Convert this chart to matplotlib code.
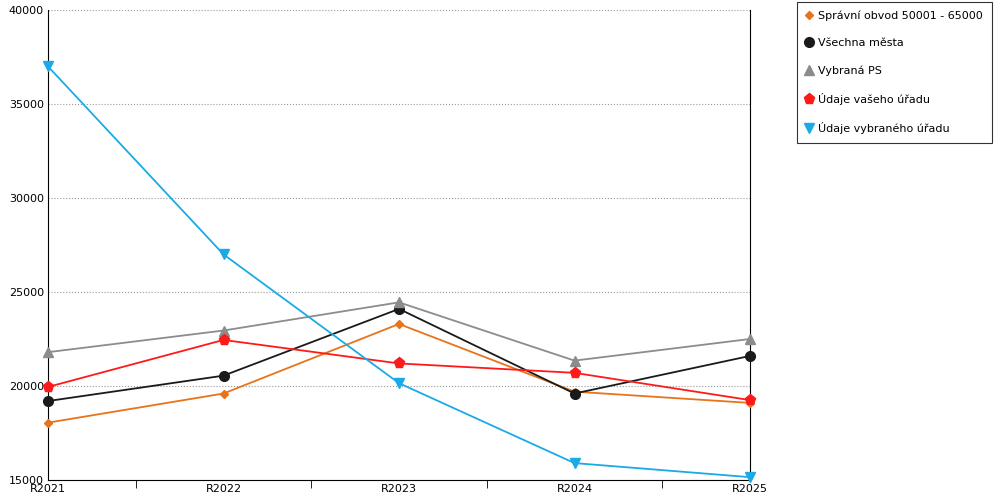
import numpy as np
import matplotlib.pyplot as plt

years = ['R2021', 'R2022', 'R2023', 'R2024', 'R2025']
spravni = [18050, 19600, 23300, 19700, 19100]
vsechna = [19200, 20550, 24100, 19600, 21600]
vybrana = [21800, 22950, 24450, 21350, 22500]
vaseho = [19950, 22450, 21200, 20700, 19250]
vybraneho = [37000, 27000, 20150, 15900, 15150]

series = [
    ('Správní obvod 50001 - 65000', spravni, '#e8731a', 'D', 4.5),
    ('Všechna města', vsechna, '#1a1a1a', 'o', 7),
    ('Vybraná PS', vybrana, '#8c8c8c', '^', 7),
    ('Údaje vašeho úřadu', vaseho, '#ff1a1a', 'p', 8),
    ('Údaje vybraného úřadu', vybraneho, '#1aaae6', 'v', 7),
]

fig = plt.figure(figsize=(10, 5), dpi=100)
ax = fig.add_axes([0.048, 0.04, 0.702, 0.94])
x = np.arange(len(years))
for label, vals, color, marker, size in series:
    ax.plot(x, vals, color=color, marker=marker, markersize=size, lw=1.3,
            label=label, clip_on=False, zorder=3)

ax.set_xlim(0, len(years) - 1)
ax.set_ylim(15000, 40000)
ax.set_yticks(np.arange(15000, 40001, 5000))
ax.tick_params(axis='y', length=0, labelsize=8, pad=3)
ax.set_xticks(x)
ax.set_xticklabels(years, fontsize=8)
ax.tick_params(axis='x', length=0, pad=3)
ax.set_xticks(x[:-1] + 0.5, minor=True)
ax.tick_params(axis='x', which='minor', length=6, direction='out')
ax.grid(axis='y', linestyle=':', color='#999999', lw=0.8)
ax.spines['top'].set_visible(False)
for s in ['left', 'right', 'bottom']:
    ax.spines[s].set_color('black')

leg = ax.legend(loc='upper left', bbox_to_anchor=(1.067, 1.018), fontsize=8,
                frameon=True, fancybox=False, edgecolor='black', labelspacing=1.55,
                handlelength=0.5, handletextpad=0.6, borderpad=0.8, borderaxespad=0)
for h in leg.legend_handles:
    h.set_linestyle('none')
leg.get_frame().set_linewidth(0.8)

fig.savefig('out.png')
